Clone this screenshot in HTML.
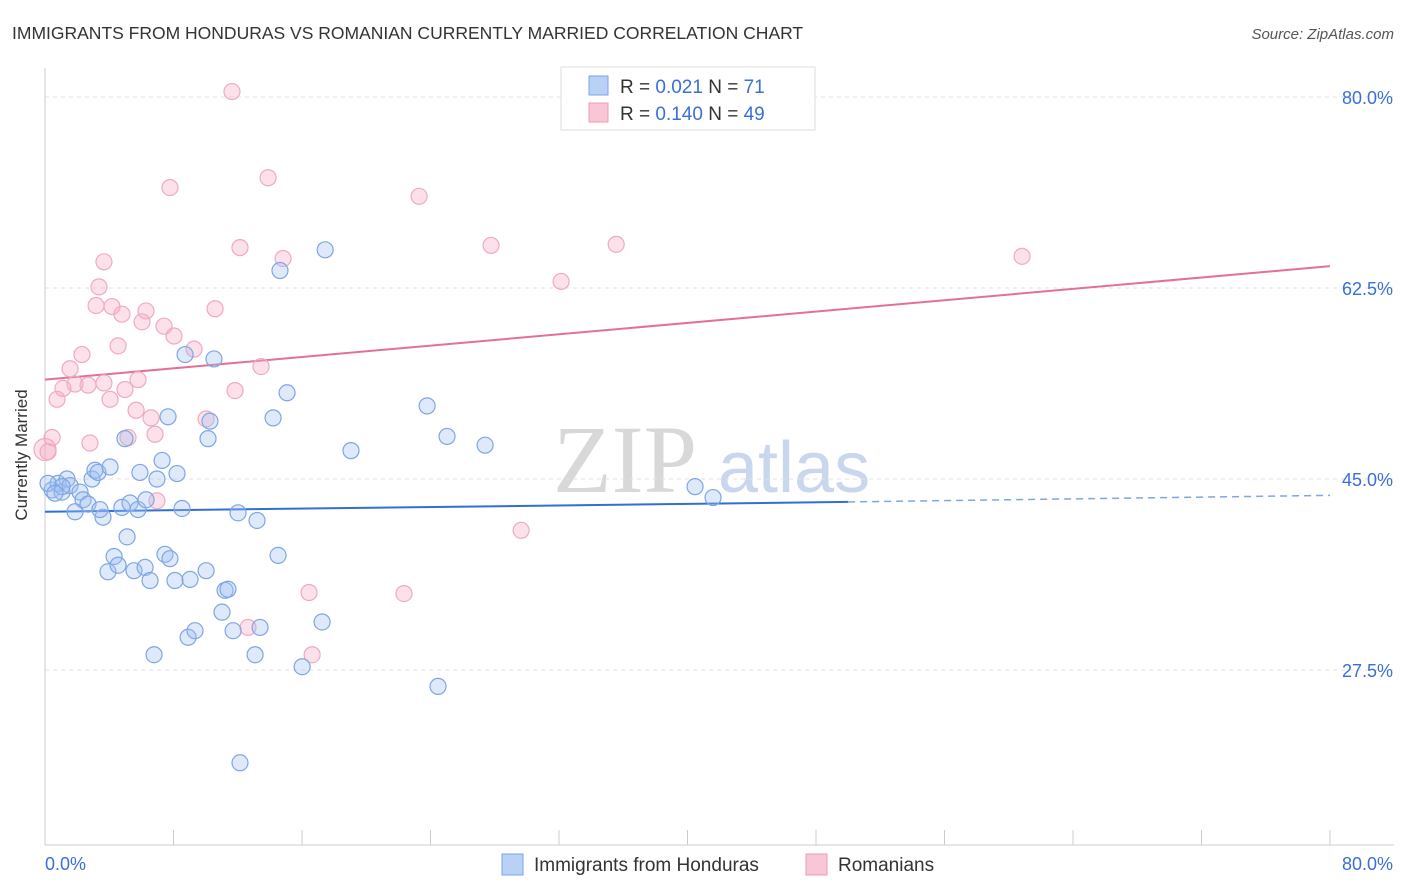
<!DOCTYPE html>
<html><head><meta charset="utf-8"><style>
body{margin:0;background:#fff;font-family:"Liberation Sans",sans-serif;}
svg{display:block}
</style></head><body>
<svg id="chart" width="1406" height="892" xmlns="http://www.w3.org/2000/svg">
<text x="12" y="39" font-size="17.5" fill="#333">IMMIGRANTS FROM HONDURAS VS ROMANIAN CURRENTLY MARRIED CORRELATION CHART</text>
<text x="1394" y="39" font-size="15" fill="#555" font-style="italic" text-anchor="end">Source: ZipAtlas.com</text>
<g>
<text x="553" y="492" font-family="Liberation Serif,serif" font-size="96" fill="#d8d8d8">ZIP</text>
<text x="718" y="492" font-size="72" fill="#c8d6ee">atlas</text>
</g>
<g id="grid"></g>
<g id="axes"></g>
<g id="lines"></g>
<g id="pts"></g>
<text x="27" y="455" font-size="17" fill="#333" text-anchor="middle" transform="rotate(-90 27 455)">Currently Married</text>
<g>
<rect x="561" y="67" width="254" height="63" fill="#fff" stroke="#ddd"/>
<rect x="589" y="76" width="19" height="19" fill="#b9d1f5" stroke="#7aa4e6"/>
<rect x="589" y="103" width="19" height="19" fill="#f9c6d6" stroke="#ec9bb6"/>
<text x="620" y="93" font-size="19" fill="#333">R = <tspan fill="#3a6fd8">0.021</tspan>   N = <tspan fill="#3a6fd8"> 71</tspan></text>
<text x="620" y="120" font-size="19" fill="#333">R = <tspan fill="#3a6fd8">0.140</tspan>   N = <tspan fill="#3a6fd8">49</tspan></text>
</g>
<g>
<rect x="502" y="854" width="21" height="21" fill="#b9d1f5" stroke="#7aa4e6"/>
<text x="534" y="871" font-size="19" fill="#333">Immigrants from Honduras</text>
<rect x="806" y="854" width="21" height="21" fill="#f9c6d6" stroke="#ec9bb6"/>
<text x="838" y="871" font-size="19" fill="#333">Romanians</text>
</g>
</svg>
<script>
const yTicks=[80,62.5,45,27.5];
const yTickLabels=["80.0%","62.5%","45.0%","27.5%"];
const xTickLabels=["0.0%","80.0%"];
const blueX=[0.44,0.81,1.06,1.37,1.56,1.87,2.18,2.37,2.68,2.93,3.11,3.30,3.61,4.05,3.92,4.30,4.55,4.79,5.11,5.29,5.54,5.79,5.91,6.23,6.29,6.54,6.79,6.97,7.29,7.47,7.66,7.78,8.22,8.53,8.72,8.91,9.03,9.34,10.03,10.15,10.27,10.52,11.02,11.21,11.39,11.71,12.02,12.14,13.08,13.20,13.39,14.20,14.51,14.63,15.07,16.01,17.25,17.44,19.05,23.79,24.47,25.03,27.40,40.47,41.59,1.06,4.98,0.19,0.62,3.42,8.09];
const blueY=[44.0,44.6,43.8,45.0,44.4,42.0,43.8,43.1,42.7,45.0,45.8,45.6,41.5,46.1,36.5,37.9,37.1,42.4,39.7,42.8,36.6,42.2,45.6,36.9,43.1,35.7,28.9,45.0,46.7,38.1,50.7,37.7,45.5,42.3,56.4,30.5,35.8,31.1,36.6,48.7,50.3,56.0,32.8,34.8,34.9,31.1,41.9,19.0,28.9,41.2,31.4,50.6,38.0,64.1,52.9,27.8,31.9,66.0,47.6,51.7,26.0,48.9,48.1,44.3,43.3,44.3,48.7,44.6,43.7,42.2,35.7];
const pinkX=[11.64,13.89,7.78,23.29,12.14,14.82,27.77,35.56,60.83,32.13,3.67,3.36,3.18,4.17,4.79,6.29,6.04,7.41,8.03,10.59,4.55,9.28,2.30,13.45,1.56,1.87,1.12,2.68,3.67,4.98,5.79,11.83,0.75,4.05,5.67,6.60,10.03,6.85,5.17,0.44,2.80,0.19,6.97,29.64,16.44,22.35,12.64,16.63,0];
const pinkY=[80.5,72.6,71.7,70.9,66.2,65.2,66.4,66.5,65.4,63.1,64.9,62.6,60.9,60.8,60.1,60.4,59.4,59.0,58.1,60.6,57.2,56.9,56.4,55.3,55.1,53.7,53.3,53.6,53.8,53.2,54.1,53.1,52.3,52.3,51.3,50.6,50.5,49.1,48.8,48.8,48.3,47.5,43.0,40.3,34.6,34.5,31.4,28.9,47.7];
const blueTrend=[[0,42.0],[50,42.9],[80,43.5]];
const pinkTrend=[[0,54.1],[80,64.5]];
const NS="http://www.w3.org/2000/svg";
const X=v=>45+v/80*1285;
const Y=v=>97+(80-v)*191/17.5;
function mk(tag,attrs,parent){const e=document.createElementNS(NS,tag);for(const k in attrs)e.setAttribute(k,attrs[k]);document.getElementById(parent).appendChild(e);return e;}
yTicks.forEach((t,i)=>{
  const g=mk('line',{x1:45,x2:1394,y1:Y(t),y2:Y(t),stroke:'#e2e2e2','stroke-dasharray':'4,4'},'grid');
  
  
  const l=mk('text',{x:1393,y:Y(t)+7,'font-size':18,fill:'#3a6fd8','text-anchor':'end'},'axes');
  l.textContent=yTickLabels[i];
  
  
});
mk('line',{x1:45,x2:45,y1:68,y2:845,stroke:'#ccc'},'axes');
mk('line',{x1:45,x2:1394,y1:845,y2:845,stroke:'#ccc'},'axes');
for(let i=0;i<=10;i++){mk('line',{x1:X(i*8),x2:X(i*8),y1:830,y2:845,stroke:'#ccc'},'axes');}
const xl0=mk('text',{x:45,y:870,'font-size':18,fill:'#3a6fd8'},'axes');xl0.textContent=xTickLabels[0];


const xl1=mk('text',{x:1393,y:870,'font-size':18,fill:'#3a6fd8','text-anchor':'end'},'axes');xl1.textContent=xTickLabels[1];


pinkX.forEach((x,i)=>{
  const c=mk('circle',{cx:X(x),cy:Y(pinkY[i]),r:x===0?11:8,fill:'rgba(246,170,196,0.35)',stroke:'#eeaac2','stroke-width':1.2},'pts');
  
  
});
blueX.forEach((x,i)=>{
  const c=mk('circle',{cx:X(x),cy:Y(blueY[i]),r:8,fill:'rgba(160,192,240,0.35)',stroke:'#7ea6e4','stroke-width':1.2},'pts');
  
  
});
const b1=mk('line',{x1:X(blueTrend[0][0]),y1:Y(blueTrend[0][1]),x2:X(blueTrend[1][0]),y2:Y(blueTrend[1][1]),stroke:'#2f6fd6','stroke-width':2},'lines');


const b2=mk('line',{x1:X(blueTrend[1][0]),y1:Y(blueTrend[1][1]),x2:X(blueTrend[2][0]),y2:Y(blueTrend[2][1]),stroke:'#7ea6e4','stroke-width':1.5,'stroke-dasharray':'7,5'},'lines');


const p1=mk('line',{x1:X(pinkTrend[0][0]),y1:Y(pinkTrend[0][1]),x2:X(pinkTrend[1][0]),y2:Y(pinkTrend[1][1]),stroke:'#e4709a','stroke-width':2},'lines');


</script>
</body></html>
